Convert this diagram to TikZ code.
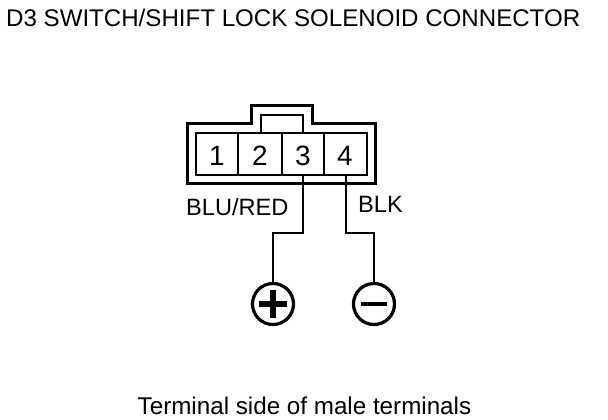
\documentclass[tikz,border=0pt]{standalone}
\usepackage{fontspec}
\setmainfont{Liberation Sans}
\tikzset{
  conn/.style={line width=3pt,line join=miter},
  wire/.style={line width=1.1pt},
  thinw/.style={line width=1.9pt},
  pin/.style={inner sep=0pt,anchor=base,font=\fontsize{28}{28}\selectfont},
  lab/.style={inner sep=0pt,anchor=base west,font=\fontsize{23.6}{24}\selectfont},
  term/.style={circle,draw,line width=3.2pt,minimum size=41pt,inner sep=0pt},
  sgn/.style={line width=5.5pt}
}
\begin{document}
\begin{tikzpicture}[x=1pt,y=-1pt]
\useasboundingbox (0,0) rectangle (608,420);
\node[lab,font=\fontsize{24.1}{24}\selectfont] (title) at (6,27) {D3 SWITCH/SHIFT LOCK SOLENOID CONNECTOR};
\draw[conn] (187,123) -- (251,123) -- (251,105) -- (312,105) -- (312,123) -- (375,123) -- (375,183) -- (187,183) -- cycle;
\draw[thinw] (196,133) rectangle (367,175);
\draw[thinw] (238,133) -- (238,175) (282,133) -- (282,175) (324,133) -- (324,175);
\draw[thinw] (261,133) -- (261,115) -- (303,115) -- (303,133);
\node[pin] (p1) at (217,165) {1};
\node[pin] (p2) at (260,165) {2};
\node[pin] (p3) at (303,165) {3};
\node[pin] (p4) at (345,165) {4};
\node[lab] (blu) at (186,215) {BLU/RED};
\node[lab] (blk) at (358,212) {BLK};
\node[term] (plus) at (273,304) {};
\node[term] (minus) at (374,304) {};
\coordinate (w3) at (303,175);
\coordinate (w4) at (346,175);
\draw[wire] (w3) -- (303,233) -- (273,233) -- (plus.north);
\draw[wire] (w4) -- (346,233) -- (374,233) -- (minus.north);
\draw[sgn] (259,304) -- (287,304) (273,290) -- (273,318);
\draw[line width=4pt] (361,304) -- (387,304);
\node[lab,font=\fontsize{24.2}{24}\selectfont] (cap) at (137.5,414.5) {Terminal side of male terminals};
\end{tikzpicture}
\end{document}
